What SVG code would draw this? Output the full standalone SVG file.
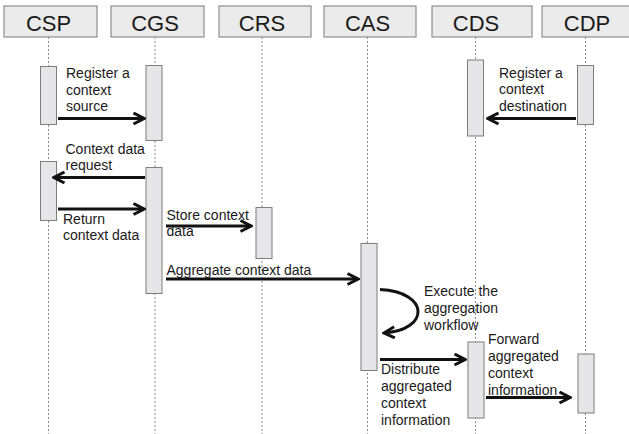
<svg xmlns="http://www.w3.org/2000/svg" width="629" height="434" viewBox="0 0 629 434">
<style>
.hdr{fill:#ebebeb;stroke:#7a7a7a;stroke-width:1}
.hdrt{font-family:"Liberation Sans",Arial,sans-serif;font-size:22px;fill:#1a1a1a;text-anchor:middle}
.life{stroke:#8c8c8c;stroke-width:1;stroke-dasharray:2,2;fill:none}
.act{fill:#e6e6e8;stroke:#7d7d7d;stroke-width:1}
.msg{stroke:#111;stroke-width:3;fill:none;marker-end:url(#ah)}
.lbl{font-family:"Liberation Sans",Arial,sans-serif;font-size:14px;fill:#1a1a1a}
</style>
<defs>
<marker id="ah" markerUnits="userSpaceOnUse" viewBox="0 0 14 14" refX="12" refY="7" markerWidth="14" markerHeight="14" orient="auto">
<path d="M1.5,1.5 L12,7 L1.5,12.5" fill="none" stroke="#111" stroke-width="3" stroke-linejoin="miter"/>
</marker>
</defs>
<rect width="629" height="434" fill="#ffffff"/>

<g id="CSP">
<rect class="hdr" x="4" y="6" width="93" height="31"/>
<text class="hdrt" x="48.5" y="31">CSP</text>
<line class="life" x1="48.5" y1="37" x2="48.5" y2="434"/>
<rect class="act" x="40.5" y="66.5" width="16" height="58"/>
<rect class="act" x="40.5" y="161.5" width="16" height="59"/>
</g>
<g id="CGS">
<rect class="hdr" x="111" y="6" width="93" height="31"/>
<text class="hdrt" x="155" y="31">CGS</text>
<line class="life" x1="155" y1="37" x2="155" y2="434"/>
<rect class="act" x="146" y="65.5" width="16" height="75"/>
<rect class="act" x="146" y="167.5" width="16" height="126"/>
</g>
<g id="CRS">
<rect class="hdr" x="219" y="6" width="92" height="31"/>
<text class="hdrt" x="262" y="31">CRS</text>
<line class="life" x1="262" y1="37" x2="262" y2="434"/>
<rect class="act" x="256" y="207.5" width="16" height="51"/>
</g>
<g id="CAS">
<rect class="hdr" x="324" y="6" width="92" height="31"/>
<text class="hdrt" x="367.5" y="31">CAS</text>
<line class="life" x1="367.5" y1="37" x2="367.5" y2="434"/>
<rect class="act" x="361" y="243.5" width="16" height="127"/>
</g>
<g id="CDS">
<rect class="hdr" x="432" y="6" width="100" height="31"/>
<text class="hdrt" x="476" y="31">CDS</text>
<line class="life" x1="475.5" y1="37" x2="475.5" y2="434"/>
<rect class="act" x="467.5" y="60" width="16" height="76"/>
<rect class="act" x="468" y="342" width="16" height="76"/>
</g>
<g id="CDP">
<rect class="hdr" x="542" y="6" width="90" height="31"/>
<text class="hdrt" x="587" y="31">CDP</text>
<line class="life" x1="585.5" y1="37" x2="585.5" y2="434"/>
<rect class="act" x="577.5" y="65.5" width="16" height="59"/>
<rect class="act" x="578" y="354" width="16" height="59"/>
</g>

<g id="connectors">
<line class="msg" x1="58" y1="118.5" x2="144" y2="118.5"/>
<line class="msg" x1="576" y1="118.5" x2="488" y2="118.5"/>
<line class="msg" x1="145" y1="177.5" x2="54" y2="177.5"/>
<line class="msg" x1="58" y1="209" x2="144" y2="209"/>
<line class="msg" x1="166" y1="226" x2="251" y2="226"/>
<line class="msg" x1="166" y1="279" x2="358" y2="279"/>
<path class="msg" d="M380,289.5 C430,292 430,330 384,333"/>
<line class="msg" x1="380" y1="359.5" x2="465" y2="359.5"/>
<line class="msg" x1="486" y1="397.5" x2="570" y2="397.5"/>
</g>

<g id="labels">
<text class="lbl" x="66" y="78">Register a</text>
<text class="lbl" x="66" y="94.5">context</text>
<text class="lbl" x="66" y="111">source</text>
<text class="lbl" x="499" y="77.5">Register a</text>
<text class="lbl" x="499" y="94">context</text>
<text class="lbl" x="499" y="110.5">destination</text>
<text class="lbl" x="65.5" y="154">Context data</text>
<text class="lbl" x="65.5" y="170">request</text>
<text class="lbl" x="63" y="223.5">Return</text>
<text class="lbl" x="63" y="240">context data</text>
<text class="lbl" x="166.5" y="220">Store context</text>
<text class="lbl" x="166.5" y="236">data</text>
<text class="lbl" x="166.5" y="274.5">Aggregate context data</text>
<text class="lbl" x="424" y="296">Execute the</text>
<text class="lbl" x="424" y="313">aggregation</text>
<text class="lbl" x="424" y="329.5">workflow</text>
<text class="lbl" x="488" y="344">Forward</text>
<text class="lbl" x="488" y="361">aggregated</text>
<text class="lbl" x="488" y="378">context</text>
<text class="lbl" x="488" y="394.5">information</text>
<text class="lbl" x="381" y="374">Distribute</text>
<text class="lbl" x="381" y="391">aggregated</text>
<text class="lbl" x="381" y="408">context</text>
<text class="lbl" x="381" y="425">information</text>
</g>
</svg>
